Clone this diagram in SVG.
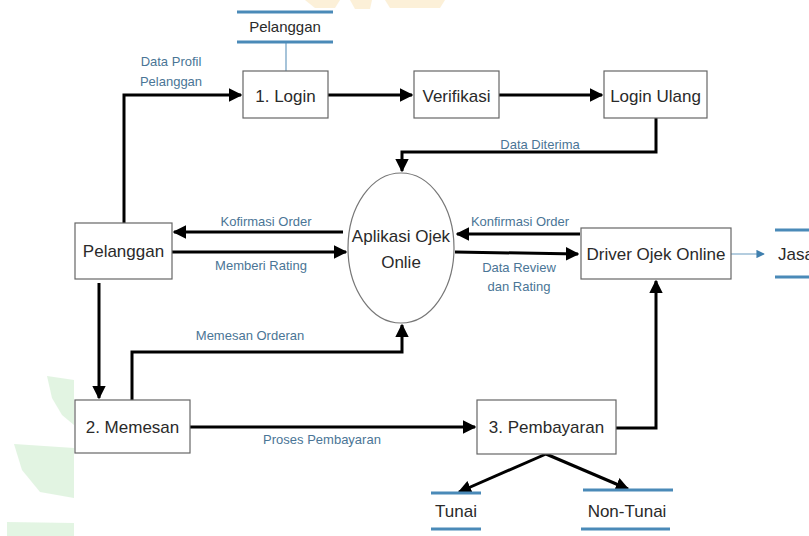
<svg xmlns="http://www.w3.org/2000/svg" width="809" height="536" viewBox="0 0 809 536">
<defs>
<style>
.box{fill:#fff;stroke:#666;stroke-width:1.2}
.t{font-family:"Liberation Sans",Arial,sans-serif;font-size:17px;fill:#2a2a2a;text-anchor:middle}
.lb{font-family:"Liberation Sans",Arial,sans-serif;font-size:13px;fill:#4a7596;text-anchor:middle}
.fl{fill:none;stroke:#000;stroke-width:3}
.ds{stroke:#4a8ab8;stroke-width:3}
.thin{fill:none;stroke:#6b9cc0;stroke-width:1.2}
.wm{opacity:0.4}
</style>
<marker id="ah" viewBox="0 0 10 10" refX="9" refY="5" markerWidth="4.5" markerHeight="4.5" orient="auto" markerUnits="strokeWidth"><path d="M0,0L10,5L0,10z" fill="#000"/></marker>
<marker id="ahb" viewBox="0 0 10 10" refX="9" refY="5" markerWidth="7" markerHeight="7" orient="auto" markerUnits="strokeWidth"><path d="M0,0L10,5L0,10z" fill="#3f7fae"/></marker>
</defs>
<rect width="809" height="536" fill="#fff"/>
<g id="watermark" class="wm">
<path d="M305,0 L340,0 L335,8 L315,8z" fill="#f8dca0"/>
<path d="M350,0 L372,0 L370,9 L355,9z" fill="#f8dca0"/>
<path d="M385,0 L445,0 L440,8 L390,8z" fill="#f8dca0"/>
<path d="M47,376 L74,380 L74,425 L62,415 L52,398z" fill="#b8e6b8"/>
<path d="M14,444 L74,448 L74,498 L40,492 L22,470z" fill="#b8e6b8"/>
<path d="M7,522 L74,523 L74,536 L7,536z" fill="#b8e6b8"/>
</g>
<g id="connectors">
<path class="fl" d="M124,223 V95 H241" marker-end="url(#ah)"/>
<path class="fl" d="M328,95 H412" marker-end="url(#ah)"/>
<path class="fl" d="M499,95 H602" marker-end="url(#ah)"/>
<path class="fl" d="M656,118 V152 H402 V171" marker-end="url(#ah)"/>
<path class="fl" d="M343,232 H174" marker-end="url(#ah)"/>
<path class="fl" d="M172,252 H346" marker-end="url(#ah)"/>
<path class="fl" d="M580,234 H457" marker-end="url(#ah)"/>
<path class="fl" d="M455,252 L578,254" marker-end="url(#ah)"/>
<path class="fl" d="M99,283 V398" marker-end="url(#ah)"/>
<path class="fl" d="M132,400 V352 H402 V325" marker-end="url(#ah)"/>
<path class="fl" d="M190,427 H475" marker-end="url(#ah)"/>
<path class="fl" d="M616,428 H656 V281" marker-end="url(#ah)"/>
<path class="fl" d="M546,454 L459,492" marker-end="url(#ah)"/>
<path class="fl" d="M546,454 L628,489" marker-end="url(#ah)"/>
<path class="thin" d="M286,42 V71"/>
<path class="thin" d="M731,254 H764" marker-end="url(#ahb)"/>
<text class="lb" x="171" y="66">Data Profil</text>
<text class="lb" x="171" y="86">Pelanggan</text>
<text class="lb" x="540" y="149">Data Diterima</text>
<text class="lb" x="266" y="226">Kofirmasi Order</text>
<text class="lb" x="261" y="270">Memberi Rating</text>
<text class="lb" x="520" y="226">Konfirmasi Order</text>
<text class="lb" x="519" y="272">Data Review</text>
<text class="lb" x="519" y="291">dan Rating</text>
<text class="lb" x="250" y="340">Memesan Orderan</text>
<text class="lb" x="322" y="444">Proses Pembayaran</text>
</g>
<g id="ds-pelanggan">
<line class="ds" x1="237" y1="12" x2="333" y2="12"/>
<line class="ds" x1="237" y1="42" x2="333" y2="42"/>
<text class="t" x="285" y="32" style="font-size:15px">Pelanggan</text>
</g>
<g id="login"><rect class="box" x="243" y="71" width="85" height="47"/><text class="t" x="285.5" y="102">1. Login</text></g>
<g id="verifikasi"><rect class="box" x="414" y="71" width="85" height="47"/><text class="t" x="456.5" y="102">Verifikasi</text></g>
<g id="login-ulang"><rect class="box" x="604" y="71" width="103" height="47"/><text class="t" x="655.5" y="102">Login Ulang</text></g>
<g id="aplikasi"><ellipse cx="401" cy="248" rx="53" ry="75" fill="#fff" stroke="#777" stroke-width="1.2"/><text class="t" x="401" y="242">Aplikasi Ojek</text><text class="t" x="401" y="268">Onlie</text></g>
<g id="pelanggan"><rect class="box" x="75" y="223" width="97" height="56"/><text class="t" x="123.5" y="257">Pelanggan</text></g>
<g id="driver"><rect class="box" x="581" y="228" width="150" height="51"/><text class="t" x="656" y="260">Driver Ojek Online</text></g>
<g id="ds-jasa">
<line class="ds" x1="775" y1="230" x2="809" y2="230"/>
<line class="ds" x1="775" y1="277" x2="809" y2="277"/>
<text class="t" x="778" y="260" style="text-anchor:start">Jasa</text>
</g>
<g id="memesan"><rect class="box" x="75" y="400" width="115" height="53"/><text class="t" x="132.5" y="433">2. Memesan</text></g>
<g id="pembayaran"><rect class="box" x="477" y="400" width="139" height="54"/><text class="t" x="546.5" y="433">3. Pembayaran</text></g>
<g id="ds-tunai">
<line class="ds" x1="431" y1="493" x2="481" y2="493"/>
<line class="ds" x1="431" y1="529" x2="481" y2="529"/>
<text class="t" x="456" y="517">Tunai</text>
</g>
<g id="ds-nontunai">
<line class="ds" x1="583" y1="490" x2="673" y2="490"/>
<line class="ds" x1="581" y1="529" x2="670" y2="529"/>
<text class="t" x="627" y="517">Non-Tunai</text>
</g>
</svg>
